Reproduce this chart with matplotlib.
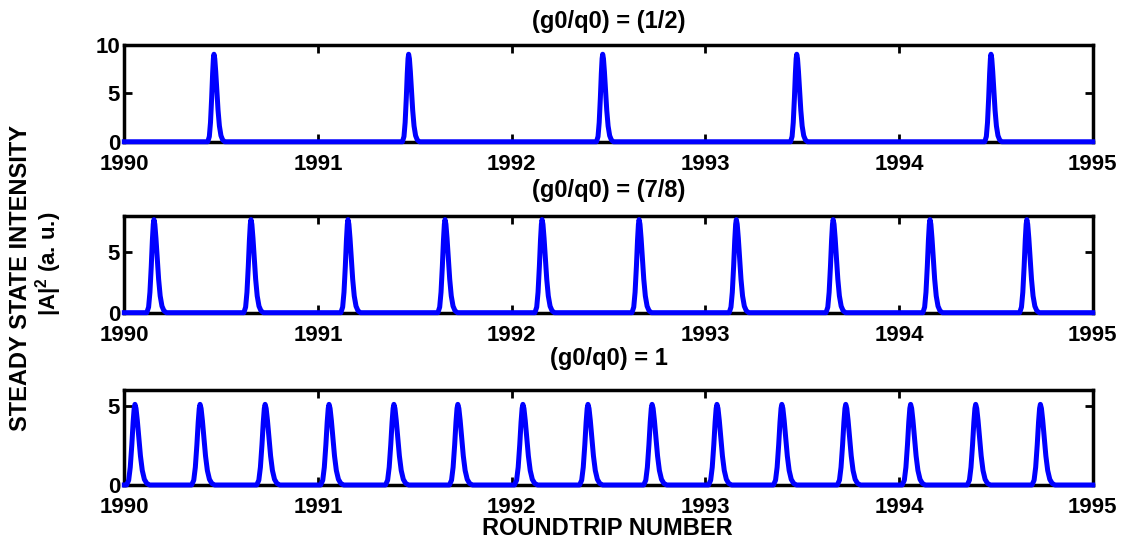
import numpy as np
import matplotlib
matplotlib.use("Agg")
import matplotlib.pyplot as plt

plt.rcParams['font.family'] = ['Liberation Sans', 'DejaVu Sans']
plt.rcParams['font.weight'] = 'bold'
plt.rcParams['mathtext.fontset'] = 'custom'
plt.rcParams['mathtext.bf'] = 'Liberation Sans:bold'
plt.rcParams['mathtext.rm'] = 'Liberation Sans:bold'

# pulse positions (roundtrip number) and heights
peaks_half = [1990.463, 1991.468, 1992.470, 1993.472, 1994.475]
peaks_78 = [1990.153, 1990.654, 1991.155, 1991.656, 1992.157,
            1992.658, 1993.160, 1993.660, 1994.160, 1994.660]
peaks_one = [1990.055, 1990.391, 1990.727, 1991.057, 1991.392,
             1991.722, 1992.058, 1992.394, 1992.725, 1993.060,
             1993.395, 1993.725, 1994.060, 1994.396, 1994.730]
height_half = 9.05
height_78 = 7.7
height_one = 5.1

# one pulse, offset from its peak and relative height
pulse_dx = [-0.032, -0.024, -0.018, -0.012, -0.007, -0.003, 0.0, 0.004,
            0.009, 0.015, 0.021, 0.028, 0.036, 0.045, 0.056]
pulse_y = [0.0, 0.06, 0.22, 0.50, 0.78, 0.95, 1.0, 0.95,
           0.80, 0.58, 0.36, 0.18, 0.07, 0.02, 0.0]

titles = ['(g0/q0) = (1/2)', '(g0/q0) = (7/8)', '(g0/q0) = 1']
ylims = [10, 8, 6]
yticks = [[0, 5, 10], [0, 5], [0, 5]]
xticks = [1990, 1991, 1992, 1993, 1994, 1995]


def pulse_train(peaks, h, w):
    xs = [1990.0]
    ys = [0.0]
    for p in peaks:
        for dx, r in zip(pulse_dx, pulse_y):
            xs.append(p + dx * w)
            ys.append(h * r)
    xs.append(1995.0)
    ys.append(0.0)
    return np.array(xs), np.array(ys)


fig = plt.figure(figsize=(11.26, 5.39), dpi=100)
boxes = [[0.1104, 0.737, 0.860, 0.1794],
         [0.1104, 0.4199, 0.860, 0.1794],
         [0.1104, 0.1002, 0.860, 0.176]]
series = [(peaks_half, height_half, 1.0),
          (peaks_78, height_78, 1.15),
          (peaks_one, height_one, 1.35)]
title_pads = [12, 14, 18]

for i in range(3):
    ax = fig.add_axes(boxes[i])
    x, y = pulse_train(*series[i])
    ax.plot(x, y, color=(0, 0, 1), linewidth=3.6, clip_on=False, zorder=5,
            solid_joinstyle='round')
    ax.set_xlim(1990, 1995)
    ax.set_ylim(0, ylims[i])
    ax.set_xticks(xticks)
    ax.set_yticks(yticks[i])
    ax.tick_params(direction='in', length=6, width=2, top=True, right=True,
                   labelsize=16)
    ax.tick_params(axis='x', pad=9)
    ax.tick_params(axis='y', pad=3)
    for lab in ax.get_xticklabels() + ax.get_yticklabels():
        lab.set_fontweight('bold')
    for s in ax.spines.values():
        s.set_linewidth(2.5)
    ax.set_title(titles[i], fontsize=17, fontweight='bold', pad=title_pads[i])

fig.text(0.018, 0.484, 'STEADY STATE INTENSITY', rotation=90, ha='center',
         va='center', fontsize=17, fontweight='bold')
fig.text(0.043, 0.51, r'|A|$^{\mathbf{2}}$ (a. u.)', rotation=90, ha='center',
         va='center', fontsize=16, fontweight='bold')
fig.text(0.5395, 0.0204, 'ROUNDTRIP NUMBER', ha='center', va='center',
         fontsize=17, fontweight='bold')

fig.savefig('out.png', dpi=100)
